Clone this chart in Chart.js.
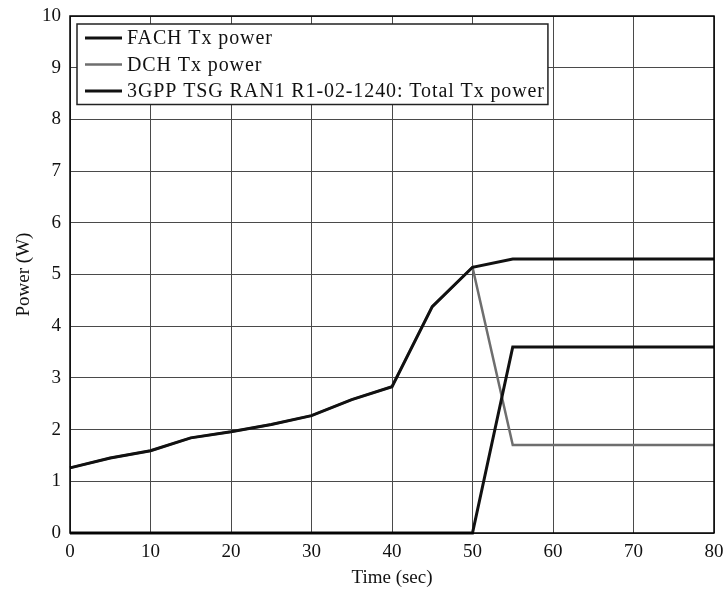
<!DOCTYPE html>
<html>
<head>
<meta charset="utf-8">
<script src="https://cdn.jsdelivr.net/npm/chart.js@4/dist/chart.umd.min.js"></script>
<style>
  html, body { margin: 0; padding: 0; background: #fff; }
  #wrap { width: 725px; height: 589px; }
</style>
</head>
<body>
<div id="wrap"><canvas id="canvas"></canvas></div>
<script>
// Time axis samples (sec)
const times = [0, 5, 10, 15, 20, 25, 30, 35, 40, 45, 50, 55, 60, 65, 70, 75, 80];

// Power per channel (W)
const fachPower  = [0, 0, 0, 0, 0, 0, 0, 0, 0, 0, 0, 3.6, 3.6, 3.6, 3.6, 3.6, 3.6];
const dchPower   = [1.26, 1.45, 1.59, 1.84, 1.96, 2.1, 2.27, 2.58, 2.83, 4.38, 5.14, 1.7, 1.7, 1.7, 1.7, 1.7, 1.7];
const totalPower = [1.26, 1.45, 1.59, 1.84, 1.96, 2.1, 2.27, 2.58, 2.83, 4.38, 5.14, 5.3, 5.3, 5.3, 5.3, 5.3, 5.3];

const seriesLabels = ['FACH Tx power', 'DCH Tx power', '3GPP TSG RAN1 R1-02-1240: Total Tx power'];

const FONT = '"Liberation Serif", "DejaVu Serif", serif';

const toPoints = arr => arr.map((v, i) => ({ x: times[i], y: v }));

// Boxed legend in the upper-left corner of the plot plus a full frame
const boxLegend = {
  id: 'boxLegend',
  afterDraw(chart) {
    const { ctx, chartArea } = chart;
    ctx.save();
    // frame around the plot
    ctx.strokeStyle = '#000';
    ctx.lineWidth = 1.5;
    ctx.strokeRect(chartArea.left, chartArea.top, chartArea.right - chartArea.left, chartArea.bottom - chartArea.top);

    const x0 = chartArea.left + 7, y0 = chartArea.top + 8;
    const rowH = 26.5;
    ctx.font = '20px ' + FONT;
    ctx.letterSpacing = '0.9px';
    const maxW = Math.max(...chart.data.datasets.map(d => ctx.measureText(d.label).width));
    const w = 52 + maxW + 1, h = rowH * chart.data.datasets.length + 1;
    ctx.fillStyle = '#fff';
    ctx.fillRect(x0, y0, w, h);
    ctx.lineWidth = 1.5;
    ctx.strokeStyle = '#222';
    ctx.strokeRect(x0, y0, w, h);

    chart.data.datasets.forEach((d, i) => {
      const cy = y0 + 14 + i * rowH;
      ctx.strokeStyle = d.borderColor;
      ctx.lineWidth = d.borderWidth;
      ctx.beginPath();
      ctx.moveTo(x0 + 8, cy);
      ctx.lineTo(x0 + 45, cy);
      ctx.stroke();
      ctx.fillStyle = '#111';
      ctx.textBaseline = 'middle';
      ctx.fillText(d.label, x0 + 50, cy + 1);
    });
    ctx.letterSpacing = '0px';
    ctx.restore();
  }
};

new Chart(document.getElementById('canvas').getContext('2d'), {
  type: 'line',
  data: {
    datasets: [
      { label: seriesLabels[0], data: toPoints(fachPower), borderColor: '#111', borderWidth: 3, order: 0 },
      { label: seriesLabels[1], data: toPoints(dchPower), borderColor: '#6e6e6e', borderWidth: 2.5, order: 2 },
      { label: seriesLabels[2], data: toPoints(totalPower), borderColor: '#111', borderWidth: 3, order: 1 }
    ]
  },
  options: {
    responsive: true,
    maintainAspectRatio: false,
    animation: false,
    layout: { padding: { top: 16, right: 11, left: 0, bottom: 0 } },
    elements: {
      point: { radius: 0 },
      line: { tension: 0, fill: false, borderJoinStyle: 'miter' }
    },
    datasets: { line: { clip: 6 } },
    plugins: { legend: { display: false }, tooltip: { enabled: false } },
    scales: {
      x: {
        type: 'linear',
        min: 0,
        max: 80,
        ticks: { stepSize: 10, color: '#111', font: { family: FONT, size: 19 }, padding: 8 },
        grid: { color: '#4a4a4a', lineWidth: 1, drawTicks: false },
        border: { display: false },
        title: { display: true, text: 'Time (sec)', color: '#111', font: { family: FONT, size: 19 }, padding: { top: 10, bottom: 0 } },
        afterFit(scale) {
          scale.height = 56;
          scale.paddingLeft = 0;
          scale.paddingRight = 0;
        }
      },
      y: {
        min: 0,
        max: 10,
        ticks: { stepSize: 1, color: '#111', font: { family: FONT, size: 19 }, padding: 9 },
        grid: { color: '#4a4a4a', lineWidth: 1, drawTicks: false },
        border: { display: false },
        title: { display: true, text: 'Power (W)', color: '#111', font: { family: FONT, size: 19 }, padding: { top: 13, bottom: 4 } },
        afterFit(scale) {
          scale.width = 70;
          scale.paddingTop = 0;
          scale.paddingBottom = 0;
        }
      }
    }
  },
  plugins: [boxLegend]
});
</script>
</body>
</html>
